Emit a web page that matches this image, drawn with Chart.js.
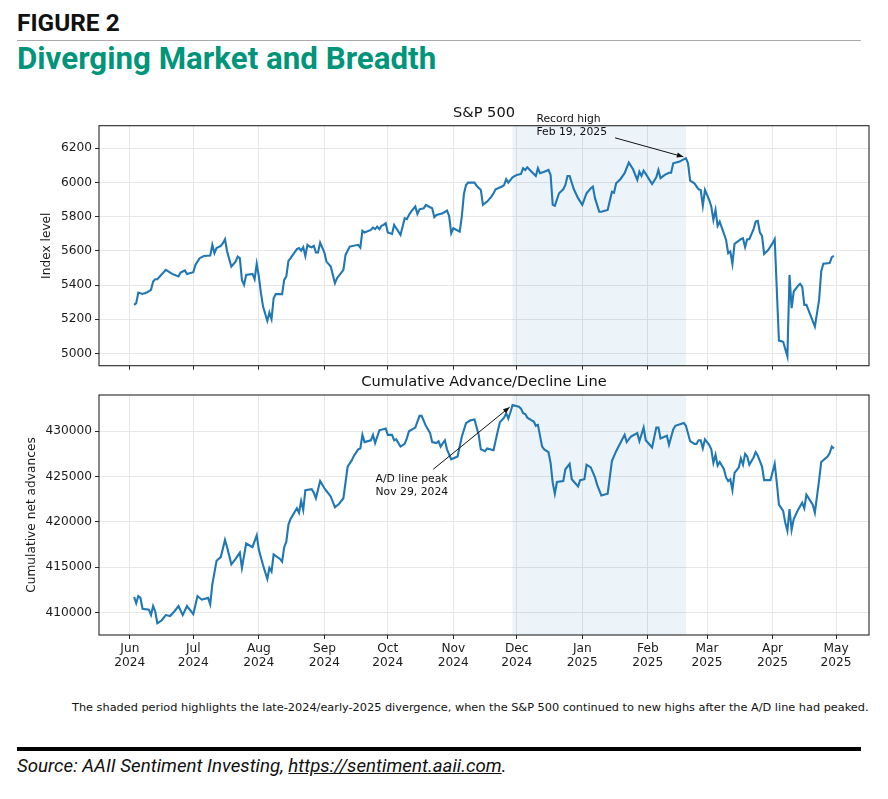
<!DOCTYPE html>
<html>
<head>
<meta charset="utf-8">
<script src="https://cdn.jsdelivr.net/npm/chart.js@4.4.1/dist/chart.umd.min.js"></script>
<style>
  body { margin: 0; width: 888px; height: 799px; background: #fff; position: relative; overflow: hidden; font-family: Roboto, sans-serif; }
  .fig { position: absolute; left: 17px; top: 8px; font-weight: 700; font-size: 24.4px; color: #111; }
  .rule { position: absolute; left: 17px; top: 40px; width: 844px; height: 1px; background: #aaa; }
  h1 { position: absolute; left: 17px; top: 40px; margin: 0; font-size: 31.3px; font-weight: 700; color: #00957a; }
  #top { position: absolute; left: 0; top: 95px; }
  #bot { position: absolute; left: 0; top: 360px; }
  .note { position: absolute; left: 72px; top: 701px; font: 11.3px 'DejaVu Sans'; color: #111; white-space: nowrap; }
  .bar { position: absolute; left: 17px; top: 747px; width: 844px; height: 4px; background: #000; }
  .src { position: absolute; left: 17px; top: 755px; font-style: italic; font-size: 18.7px; color: #111; }
  .src a { color: #111; text-decoration: underline; }
</style>
</head>
<body>
<div class="fig">FIGURE 2</div>
<div class="rule"></div>
<h1>Diverging Market and Breadth</h1>
<canvas id="top" width="888" height="290"></canvas>
<canvas id="bot" width="888" height="320"></canvas>
<div class="note">The shaded period highlights the late-2024/early-2025 divergence, when the S&amp;P 500 continued to new highs after the A/D line had peaked.</div>
<div class="bar"></div>
<div class="src">Source: AAII Sentiment Investing, <a>https://sentiment.aaii.com</a>.</div>

<script>
// x values are days counted from Jun 1, 2024
const monthTicks = [0, 30, 61, 92, 122, 153, 183, 214, 245, 273, 304, 334];
const monthLabels = [
  ['Jun', '2024'], ['Jul', '2024'], ['Aug', '2024'], ['Sep', '2024'], ['Oct', '2024'], ['Nov', '2024'],
  ['Dec', '2024'], ['Jan', '2025'], ['Feb', '2025'], ['Mar', '2025'], ['Apr', '2025'], ['May', '2025']
];
const spTicks = [5000, 5200, 5400, 5600, 5800, 6000, 6200];
const adTicks = [410000, 415000, 420000, 425000, 430000];

// shaded divergence window: Nov 29, 2024 -> Feb 19, 2025
const shadeFrom = 181;
const shadeTo = 263;

const spDays = [
  2, 3, 4, 6, 8, 10, 11, 12, 13, 17, 20, 23, 24, 26, 27,
  30, 31, 33, 35, 38, 39, 40, 41, 43, 44, 45, 46, 48, 50, 51, 52, 53, 54, 55, 58, 59, 60,
  61, 62, 63, 65, 66, 67, 68, 69, 72, 73, 74, 75, 76, 79, 80, 81, 82, 83, 84, 85, 86, 87, 88, 89, 90,
  92, 93, 95, 97, 98, 101, 102, 104, 108, 109, 110, 111, 114, 115, 116, 117, 118, 119, 120, 121,
  122, 124, 125, 126, 128, 130, 131, 132, 133, 135, 136, 137, 139, 140, 142, 143, 144, 145, 148, 150, 151, 152,
  153, 156, 157, 158, 159, 160, 163, 164, 166, 167, 169, 171, 172, 173, 176, 177, 178, 179, 181,
  183, 185, 186, 187, 188, 190, 192, 193, 194, 196, 198, 199, 200, 201, 203, 205, 206, 207, 208, 210, 212,
  214, 216, 218, 219, 220, 222, 223, 226, 228, 229, 230, 232, 234, 236, 238, 240, 241, 242, 243, 244,
  247, 249, 250, 251, 253, 255, 256, 257, 260, 263, 264, 265, 267, 269, 270, 271, 272,
  274, 275, 276, 277, 278, 279, 282, 283, 284, 285, 286, 289, 290, 291, 292, 293, 295, 296, 297, 298, 299, 300, 302,
  304, 305, 307, 309, 311, 312, 313, 314, 316, 317, 318, 319, 320, 324, 326, 327, 328, 331, 332, 333
];
const spClose = [
  5284, 5294, 5356, 5348, 5356, 5372, 5420, 5434, 5434, 5489, 5465, 5450, 5473, 5485, 5464,
  5475, 5518, 5557, 5570, 5572, 5635, 5586, 5616, 5629, 5645, 5668, 5596, 5508, 5537, 5566, 5557, 5430, 5401, 5459, 5465, 5434, 5524,
  5450, 5352, 5274, 5191, 5239, 5200, 5323, 5347, 5347, 5430, 5450, 5541, 5557, 5610, 5616, 5601, 5621, 5570, 5635, 5625, 5621, 5629, 5590, 5590, 5648,
  5590, 5537, 5508, 5411, 5440, 5489, 5576, 5625, 5635, 5619, 5717, 5707, 5722, 5736, 5727, 5742, 5727, 5746, 5752, 5762,
  5707, 5699, 5752, 5732, 5693, 5791, 5785, 5810, 5829, 5859, 5816, 5843, 5849, 5869, 5855, 5849, 5797, 5810, 5820, 5835, 5804, 5703,
  5732, 5712, 5800, 5933, 5985, 5999, 5999, 5980, 5956, 5869, 5888, 5917, 5937, 5960, 5976, 5985, 6019, 5999, 6030,
  6044, 6050, 6083, 6073, 6089, 6063, 6038, 6083, 6054, 6063, 6073, 6044, 5869, 5863, 5937, 5960, 5985, 6038, 6038, 5960, 5908,
  5869, 5937, 5966, 5976, 5908, 5829, 5829, 5839, 5946, 5940, 5995, 6019, 6054, 6116, 6077, 6015, 6063, 6038, 6069, 6050,
  5991, 6030, 6073, 6025, 6044, 6057, 6057, 6112, 6122, 6142, 6112, 6011, 5995, 5960, 5956, 5863, 5956,
  5898, 5859, 5781, 5839, 5746, 5771, 5664, 5586, 5596, 5524, 5641, 5668, 5674, 5621, 5668, 5668, 5727, 5771, 5775, 5707, 5687, 5582, 5606,
  5645, 5668, 5075, 5068, 4982, 5459, 5265, 5362, 5395, 5407, 5391, 5284, 5284, 5157, 5313, 5479, 5524, 5528, 5563, 5570
];

const adDays = [
  2, 3, 4, 5, 6, 9, 10, 11, 12, 13, 15, 17, 19, 21, 23, 25, 27,
  30, 32, 34, 37, 38, 39, 41, 43, 45, 46, 48, 50, 52, 53, 55, 58, 60,
  61, 63, 65, 66, 67, 68, 71, 72, 73, 74, 75, 76, 79, 80, 81, 82, 83, 86, 87, 88, 90,
  92, 93, 95, 97, 99, 101, 103, 105, 106, 108, 109, 110, 111, 114, 115, 116, 118, 121,
  122, 124, 125, 126, 128, 130, 131, 132, 135, 137, 138, 140, 142, 143, 145, 146, 147, 149, 150, 152,
  155, 156, 157, 159, 161, 163, 165, 166, 168, 169, 172, 174, 175, 177, 178, 179, 180, 181,
  184, 185, 186, 187, 188, 190, 191, 192, 193, 195, 196, 198, 199, 200, 201, 202, 205, 206, 208, 209, 212, 213,
  215, 216, 218, 220, 221, 223, 226, 228, 230, 232, 234, 235, 237, 240, 241, 243, 244,
  247, 249, 250, 251, 254, 255, 257, 258, 262, 263, 265, 267, 268, 269, 270, 271, 272,
  274, 275, 276, 277, 278, 279, 281, 282, 283, 284, 285, 286, 288, 289, 290, 291, 292, 293, 295, 296, 297, 299, 300, 303,
  304, 305, 306, 307, 309, 310, 311, 312, 313, 314, 316, 318, 319, 320, 323, 324, 326, 327, 330, 331, 332, 333
];
const adLine = [
  411700, 411000, 411800, 411600, 410400, 410300, 409700, 410700, 410100, 408800, 409100, 409700, 409600, 410100, 410700, 409700, 410700,
  409800, 411800, 411400, 411600, 410900, 413100, 415700, 416100, 418000, 417200, 415300, 415900, 416600, 414900, 417600, 417200, 418500,
  416900, 415200, 413700, 414900, 414500, 416400, 415900, 415600, 417200, 417800, 419700, 420300, 421500, 421000, 422300, 421300, 423500, 423600, 423200, 422600, 424500,
  423700, 423400, 422800, 421600, 422000, 422600, 426100, 426800, 427300, 428000, 428100, 429600, 428800, 429000, 429600, 428700, 430100, 430300,
  429600, 429600, 429000, 429100, 428300, 428600, 429200, 430000, 430400, 431700, 431700, 430600, 429800, 428800, 428700, 428900, 428300, 429000, 428000, 426900,
  427200, 428300, 429400, 430900, 431200, 431300, 429600, 428000, 427800, 428100, 427900, 430000, 431000, 431500, 432000, 431400, 432100, 432900,
  432700, 432500, 432000, 431900, 431500, 431200, 431100, 430600, 430700, 428300, 428000, 427700, 426500, 424300, 423100, 424400, 424500, 425800, 426400, 424700, 423900, 424600,
  424700, 426300, 426000, 424900, 424100, 422900, 423100, 426700, 427800, 428700, 429600, 428800, 429400, 429800, 428900, 430400, 429000,
  428200, 430400, 430400, 429200, 429500, 428500, 430200, 430600, 430900, 430600, 428900, 428600, 428600, 429000, 429000, 428100, 429100,
  428500, 428000, 426500, 427400, 426200, 426600, 425800, 424900, 424500, 424700, 423500, 425400, 426000, 427000, 426300, 427500, 427200, 426300, 427100, 427700, 427300, 426100, 424600, 424600,
  425500, 426400, 424300, 421900, 421200, 419900, 419000, 421400, 419100, 420300, 421300, 422100, 421500, 423000, 421900, 421000, 424600, 426600, 427200, 427600, 428300, 428100
];

Chart.defaults.font.family = "'DejaVu Sans', sans-serif";
Chart.defaults.color = '#1a1a1a';

const BLUE = '#1f77b4';
const GRID = '#e6e6e6';
const INK = '#262626';

// shaded window behind the line, plus the black axes frame
const framePlugin = {
  id: 'frame',
  beforeDatasetsDraw(chart) {
    const { ctx, chartArea: a, scales: { x } } = chart;
    const x0 = x.getPixelForValue(shadeFrom);
    const x1 = x.getPixelForValue(shadeTo);
    ctx.save();
    ctx.fillStyle = 'rgba(31, 119, 180, 0.085)';
    ctx.fillRect(x0, a.top, x1 - x0, a.bottom - a.top);
    ctx.restore();
  },
  afterDatasetsDraw(chart) {
    const { ctx, chartArea: a } = chart;
    ctx.save();
    ctx.strokeStyle = INK;
    ctx.lineWidth = 1.1;
    ctx.strokeRect(a.left, a.top, a.right - a.left, a.bottom - a.top);
    ctx.restore();
  }
};

// annotate(): text plus an arrow pointing at a data point
const notePlugin = {
  id: 'note',
  afterDraw(chart, args, o) {
    if (!o || !o.lines) return;
    const { ctx, scales: { x, y } } = chart;
    const tx = x.getPixelForValue(o.textAt[0]);
    const ty = y.getPixelForValue(o.textAt[1]);
    ctx.save();
    ctx.fillStyle = '#111';
    ctx.font = "10.8px 'DejaVu Sans'";
    ctx.textAlign = 'left';
    ctx.textBaseline = 'middle';
    o.lines.forEach((t, i) => ctx.fillText(t, tx, ty + i * 13));

    const x0 = x.getPixelForValue(o.from[0]), y0 = y.getPixelForValue(o.from[1]);
    const x1 = x.getPixelForValue(o.to[0]), y1 = y.getPixelForValue(o.to[1]);
    const ang = Math.atan2(y1 - y0, x1 - x0);
    ctx.strokeStyle = '#111';
    ctx.lineWidth = 1;
    ctx.beginPath();
    ctx.moveTo(x0, y0);
    ctx.lineTo(x1, y1);
    ctx.stroke();
    const h = 7, w = 0.38;
    ctx.beginPath();
    ctx.moveTo(x1, y1);
    ctx.lineTo(x1 - h * Math.cos(ang - w), y1 - h * Math.sin(ang - w));
    ctx.lineTo(x1 - h * Math.cos(ang + w), y1 - h * Math.sin(ang + w));
    ctx.closePath();
    ctx.fillStyle = '#111';
    ctx.fill();
    ctx.restore();
  }
};

function panel(id, days, vals, o) {
  return new Chart(document.getElementById(id), {
    type: 'line',
    data: {
      datasets: [{
        data: days.map((d, i) => ({ x: d, y: vals[i] })),
        borderColor: BLUE,
        borderWidth: 2.1,
        pointRadius: 0,
        tension: 0
      }]
    },
    options: {
      responsive: false,
      animation: false,
      events: [],
      layout: { padding: { left: 0, right: 19, top: 0, bottom: 0 } },
      scales: {
        x: {
          type: 'linear',
          min: -14.6,
          max: 349.6,
          afterBuildTicks: s => { s.ticks = monthTicks.map(v => ({ value: v })); },
          afterFit: s => { s.height = o.xHeight; },
          grid: { color: GRID, lineWidth: 1, tickColor: INK, tickLength: 4, tickWidth: 1 },
          border: { display: false },
          ticks: {
            display: o.showX,
            autoSkip: false,
            maxRotation: 0,
            padding: 3.3,
            color: '#1a1a1a',
            font: { size: 12.2, lineHeight: '14px' },
            callback: (v, i) => monthLabels[i]
          }
        },
        y: {
          min: o.min,
          max: o.max,
          afterBuildTicks: s => { s.ticks = o.ticks.map(v => ({ value: v })); },
          afterFit: s => { s.width = 99; },
          grid: { color: GRID, lineWidth: 1, tickColor: INK, tickLength: 4, tickWidth: 1 },
          border: { display: false },
          title: {
            display: true,
            text: o.yTitle,
            color: '#1a1a1a',
            font: { size: 12.2 },
            padding: { top: o.yTitlePad, bottom: 0 }
          },
          ticks: {
            padding: 3,
            color: '#1a1a1a',
            font: { size: 12.2 },
            callback: v => String(v)
          }
        }
      },
      plugins: {
        legend: { display: false },
        tooltip: { enabled: false },
        title: {
          display: true,
          fullSize: false,
          text: o.title,
          color: '#111',
          font: { size: 14.6, weight: 'normal', lineHeight: '18px' },
          padding: o.titlePad
        },
        note: o.note
      }
    },
    plugins: [framePlugin, notePlugin]
  });
}

panel('top', spDays, spClose, {
  title: 'S&P 500',
  titlePad: { top: 9, bottom: 3.7 },
  yTitle: 'Index level',
  yTitlePad: 39.5,
  min: 4928, max: 6332,
  ticks: spTicks,
  showX: false,
  xHeight: 19.3,
  note: {
    lines: ['Record high', 'Feb 19, 2025'],
    textAt: [192.3, 6372],
    from: [229.5, 6261],
    to: [261.8, 6150]
  }
});

panel('bot', adDays, adLine, {
  title: 'Cumulative Advance/Decline Line',
  titlePad: { top: 13.7, bottom: 3.3 },
  yTitle: 'Cumulative net advances',
  yTitlePad: 24.2,
  min: 407500, max: 434000,
  ticks: adTicks,
  showX: true,
  xHeight: 45,
  note: {
    lines: ['A/D line peak', 'Nov 29, 2024'],
    textAt: [116.2, 424700],
    from: [143.5, 425800],
    to: [179.6, 432650]
  }
});
</script>
</body>
</html>
